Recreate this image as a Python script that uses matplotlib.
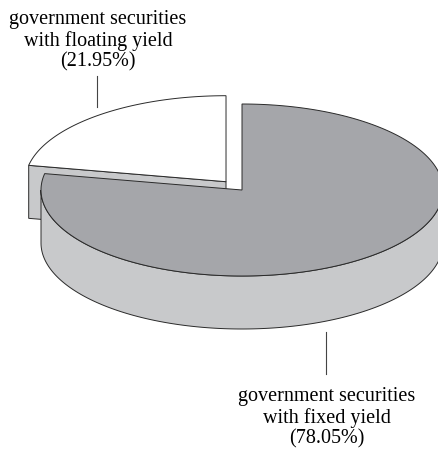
import numpy as np
import matplotlib.pyplot as plt
from matplotlib.patches import Polygon

# shares of the portfolio, in percent
labels = ['government securities\nwith floating yield', 'government securities\nwith fixed yield']
shares = [21.95, 78.05]
face_colors = ['#ffffff', '#a5a6aa']
side_color = '#c8c9cb'
edge_color = '#2a2a2a'

W, H = 439, 452
cx, cy = 242, 191        # centre of the top ellipse (pixels)
rx, ry = 201, 86         # ellipse radii
depth = 53               # thickness of the disc
explode = 0.125          # pull-out of the small slice


def rim(t, dx=0.0, dy=0.0):
    t = np.radians(t)
    return np.column_stack([cx + dx + rx * np.cos(t), cy + dy - ry * np.sin(t)])


fig = plt.figure(figsize=(W / 100, H / 100), dpi=100)
ax = fig.add_axes([0, 0, 1, 1])
ax.set_xlim(0, W)
ax.set_ylim(H, 0)
ax.axis('off')

# slice angles, counter-clockwise from 12 o'clock
bounds = 90 + 360 * np.cumsum([0] + shares) / 100.0
t0, t1, t2 = bounds

# exploded small slice
mid = np.radians((t0 + t1) / 2)
ox, oy = rx * explode * np.cos(mid), -ry * explode * np.sin(mid)
apex = np.array([cx + ox, cy + oy])
p = rim(t1, ox, oy)[0]
face = np.array([apex, p, p + [0, depth], apex + [0, depth]])
ax.add_patch(Polygon(face, closed=True, fc=side_color, ec=edge_color, lw=0.7))
arc = rim(np.linspace(t0, t1, 100), ox, oy)
ax.add_patch(Polygon(np.vstack([apex, arc]), closed=True,
                     fc=face_colors[0], ec=edge_color, lw=0.7))

# large slice: front wall then top
front = np.linspace(180, 360, 200)
wall = np.vstack([rim(front), rim(front[::-1], 0, depth)])
ax.add_patch(Polygon(wall, closed=True, fc=side_color, ec=edge_color, lw=0.7))
arc = rim(np.linspace(t1, t2, 300))
ax.add_patch(Polygon(np.vstack([[cx, cy], arc]), closed=True,
                     fc=face_colors[1], ec=edge_color, lw=0.7))

# labels with leader lines
font = dict(family='Liberation Serif', size=14.5, ha='center', linespacing=1.13)
ax.plot([97, 97], [77, 108], color='#444444', lw=0.8)
ax.text(98, 10, f'{labels[0]}\n({shares[0]:.2f}%)', va='top', **font)
ax.plot([326, 326], [333, 375], color='#444444', lw=0.8)
ax.text(327, 387, f'{labels[1]}\n({shares[1]:.2f}%)', va='top', **font)

fig.savefig('out.png', dpi=100)
